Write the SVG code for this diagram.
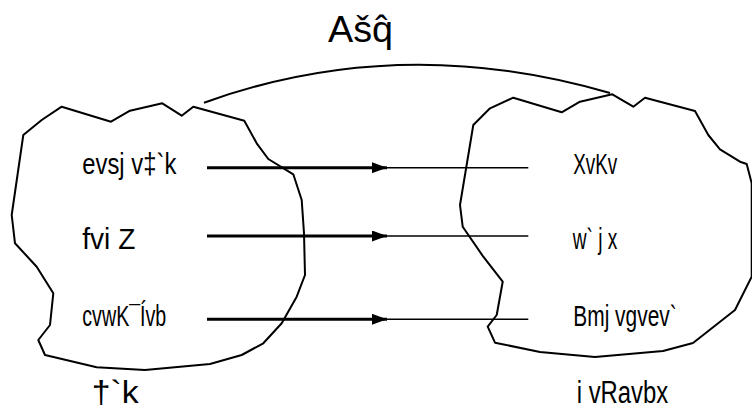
<svg xmlns="http://www.w3.org/2000/svg" width="752" height="411" viewBox="0 0 752 411">
<defs>
<style>
.blob{fill:none;stroke:#000;stroke-width:2;stroke-linejoin:round}
.lbl{font-family:"Liberation Sans",Arial,sans-serif;font-size:29px;fill:#000}
.big{font-family:"Liberation Sans",Arial,sans-serif;font-size:31px;fill:#000}
.thick{stroke:#000;stroke-width:3;fill:none}
.thin{stroke:#000;stroke-width:1.5;fill:none}
.arc{stroke:#000;stroke-width:2;fill:none}
</style>
<marker id="ah" viewBox="0 0 15 11" refX="15" refY="5.5" markerWidth="15" markerHeight="11" markerUnits="userSpaceOnUse" orient="auto">
<path d="M0,0 L15,5.5 L0,11 z" fill="#000"/>
</marker>
</defs>
<rect width="752" height="411" fill="#fff"/>
<text x="328" y="42" font-family="Liberation Sans, Arial, sans-serif" font-size="37" textLength="65" lengthAdjust="spacingAndGlyphs">Ašq̂</text>
<g id="desh">
<path class="blob" d="M61.7,106.7 L111,121.7 L130,110.7 L162.3,103.3 L181.7,115.7 L193.3,106.7 L244.3,120.7 L256.7,143.3 L268.3,159 L293.3,174.3 L301.7,200 L304,233.3 L305,275 L296.7,296.7 L281.7,323.3 L263.3,343.3 L241.7,355 L210,364 L145,370 L96.7,367.3 L45,355 L38.3,340 L50,325 L53.3,293.3 L36.7,266.7 L15,243.3 L11.7,215 L23.3,135 L41.7,120 Z"/>
<text class="lbl" x="82.3" y="174" textLength="94" lengthAdjust="spacingAndGlyphs">evsj v‡`k</text>
<text class="lbl" x="82.3" y="249.3" textLength="53" lengthAdjust="spacingAndGlyphs">fvi Z</text>
<text class="lbl" x="82.3" y="325.7" textLength="84" lengthAdjust="spacingAndGlyphs">cvwK¯Ívb</text>
<text class="big" x="91.7" y="403" textLength="47" lengthAdjust="spacingAndGlyphs">†`k</text>
</g>
<g id="rajdhani">
<path class="blob" d="M513.3,97.7 L561.7,112.3 L580,101.7 L612.3,94.3 L633.3,106.7 L645,97.7 L695,111 L708.3,135 L720,149.3 L740,161.7 L746.7,164 L751.7,183.3 L751.7,276.7 L740,300 L735,310 L693,343 L663,351 L595,357 L540,352 L495,342.7 L487.7,326.7 L496.7,315 L502.7,281.7 L483.3,256.7 L462.7,226.7 L460,205 L473.3,125 L490,108.3 Z"/>
<text class="lbl" x="573.3" y="174" textLength="44" lengthAdjust="spacingAndGlyphs">XvKv</text>
<text class="lbl" x="572.7" y="249.3" textLength="44.6" lengthAdjust="spacingAndGlyphs">w` j x</text>
<text class="lbl" x="573.3" y="325.7" textLength="103.4" lengthAdjust="spacingAndGlyphs">Bmj vgvev`</text>
<text class="big" x="576.7" y="403" textLength="91.6" lengthAdjust="spacingAndGlyphs">i vRavbx</text>
</g>
<g id="connectors">
<path class="arc" d="M204,102.7 Q400,32 610,93"/>
<line class="thick" x1="207" y1="167.7" x2="387" y2="167.7" marker-end="url(#ah)"/>
<line class="thick" x1="207" y1="236" x2="387" y2="236" marker-end="url(#ah)"/>
<line class="thick" x1="207" y1="319.3" x2="387" y2="319.3" marker-end="url(#ah)"/>
<line class="thin" x1="385" y1="167.7" x2="528.3" y2="167.7"/>
<line class="thin" x1="385" y1="236" x2="528.3" y2="236"/>
<line class="thin" x1="385" y1="319.3" x2="528.3" y2="319.3"/>
</g>
</svg>
